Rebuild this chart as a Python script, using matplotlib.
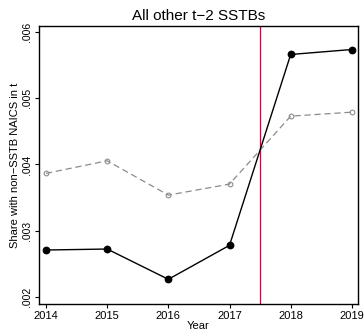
import matplotlib
matplotlib.use("Agg")
import matplotlib.pyplot as plt

plt.rcParams['font.family'] = ['Liberation Sans', 'DejaVu Sans']

years = [2014, 2015, 2016, 2017, 2018, 2019]
treated = [0.002709, 0.002724, 0.002267, 0.002780, 0.005661, 0.005736]
control = [0.003866, 0.004056, 0.003538, 0.003704, 0.004730, 0.004790]
yticks = [0.002, 0.003, 0.004, 0.005, 0.006]
yticklabels = ['.002', '.003', '.004', '.005', '.006']
event_x = 2017.5

fig = plt.figure(figsize=(3.64, 3.34), dpi=100)
ax = fig.add_axes([0.107, 0.0898, 0.8765, 0.8322])

ax.plot(years, control, color='#8c8c8c', linestyle=(0, (5, 3)), linewidth=0.9,
        marker='o', markersize=3.4, markerfacecolor='none', markeredgecolor='#8c8c8c',
        markeredgewidth=0.8, zorder=3)
ax.plot(years, treated, color='black', linewidth=1.0, marker='o', markersize=4.6,
        markerfacecolor='black', markeredgecolor='black', zorder=4)
ax.axvline(event_x, color='#b3123f', linewidth=0.9, zorder=2)

ax.set_xlim(2013.885, 2019.10)
ax.set_ylim(0.001894, 0.00609)
ax.set_xticks(years)
ax.set_xticklabels([str(y) for y in years], fontsize=8)
ax.set_yticks(yticks)
ax.set_yticklabels(yticklabels, fontsize=7.5, rotation=90, va='center')
ax.tick_params(length=3.2, width=0.8, pad=2)
for s in ax.spines.values():
    s.set_linewidth(1.0)

ax.set_title('All other t\u22122 SSTBs', fontsize=11, pad=4)
ax.set_xlabel('Year', fontsize=8, labelpad=0)
ax.set_ylabel('Share with non\u2212SSTB NAICS in t', fontsize=8, labelpad=1)

fig.savefig('out.png', dpi=100)
